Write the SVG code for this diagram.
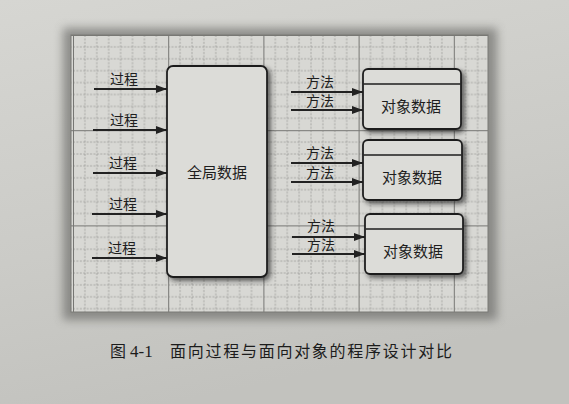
<svg xmlns="http://www.w3.org/2000/svg" width="569" height="404" viewBox="0 0 569 404">
  <defs>
    <linearGradient id="paper" x1="0" y1="0" x2="0.3" y2="1">
      <stop offset="0" stop-color="#d6d6d2"/>
      <stop offset="0.6" stop-color="#cbcbc7"/>
      <stop offset="1" stop-color="#c2c2be"/>
    </linearGradient>
    <pattern id="grid" patternUnits="userSpaceOnUse" x="73" y="35" width="95.2" height="95.2">
      <g stroke="#9a9a97" stroke-width="0.8" stroke-dasharray="2 1.4" fill="none">
        <path d="M11.9 0V95.2M23.8 0V95.2M35.7 0V95.2M47.6 0V95.2M59.5 0V95.2M71.4 0V95.2M83.3 0V95.2"/>
        <path d="M0 11.9H95.2M0 23.8H95.2M0 35.7H95.2M0 47.6H95.2M0 59.5H95.2M0 71.4H95.2M0 83.3H95.2"/>
      </g>
      <path d="M0.5 0V95.2M0 0.5H95.2" stroke="#767673" stroke-width="1" fill="none"/>
    </pattern>
    <filter id="halo" x="-10%" y="-10%" width="120%" height="120%">
      <feGaussianBlur stdDeviation="5"/>
    </filter>
    <filter id="shadow" x="-20%" y="-20%" width="150%" height="150%">
      <feDropShadow dx="3" dy="3" stdDeviation="2.5" flood-color="#1a1a1a" flood-opacity="0.65"/>
    </filter>
    <marker id="arrow" markerUnits="userSpaceOnUse" markerWidth="11" markerHeight="8" refX="11" refY="4" orient="auto">
      <path d="M0 0L11 4L0 8z" fill="#222"/>
    </marker>
    <style>
      .box { fill: #dcdcd8; stroke: #1e1e1e; stroke-width: 1.8; filter: url(#shadow); }
      .div { stroke: #1e1e1e; stroke-width: 1.4; }
      .lbl { font-family: "Noto Sans CJK SC", "Noto Sans", sans-serif; font-size: 14px; fill: #1e1e1e; text-anchor: middle; }
      .big { font-family: "Noto Sans CJK SC", "Noto Sans", sans-serif; font-size: 15px; fill: #1e1e1e; text-anchor: middle; }
      .arr { stroke: #222; stroke-width: 1.9; fill: none; marker-end: url(#arrow); }
      .cap { font-family: "Noto Sans CJK SC", "Noto Sans", sans-serif; font-size: 16px; fill: #1c1c1c; }
    </style>
  </defs>

  <!-- paper -->
  <rect width="569" height="404" fill="url(#paper)"/>

  <!-- grid panel with soft printed halo -->
  <rect x="63" y="28" width="434" height="292" fill="#5e5e5b" opacity="0.6" filter="url(#halo)"/>
  <rect x="71" y="35" width="417" height="277" fill="#d8d8d4"/>
  <rect x="71" y="35" width="417" height="277" fill="url(#grid)" stroke="#7a7a77" stroke-width="1"/>

  <!-- connectors -->
  <g id="connectors">
    <line class="arr" x1="94" y1="89" x2="167" y2="89"/>
    <line class="arr" x1="93" y1="130" x2="167" y2="130"/>
    <line class="arr" x1="93" y1="173" x2="167" y2="173"/>
    <line class="arr" x1="92" y1="214" x2="167" y2="214"/>
    <line class="arr" x1="92" y1="258" x2="167" y2="258"/>
    <text class="lbl" x="124" y="84">过程</text>
    <text class="lbl" x="124" y="125">过程</text>
    <text class="lbl" x="123" y="168">过程</text>
    <text class="lbl" x="123" y="209">过程</text>
    <text class="lbl" x="122" y="253">过程</text>

    <line class="arr" x1="291" y1="92" x2="363" y2="92"/>
    <line class="arr" x1="291" y1="110" x2="363" y2="110"/>
    <line class="arr" x1="291" y1="163" x2="363" y2="163"/>
    <line class="arr" x1="291" y1="182" x2="363" y2="182"/>
    <line class="arr" x1="292" y1="237" x2="365" y2="237"/>
    <line class="arr" x1="292" y1="254" x2="365" y2="254"/>
    <text class="lbl" x="320" y="87">方法</text>
    <text class="lbl" x="320" y="106">方法</text>
    <text class="lbl" x="320" y="158">方法</text>
    <text class="lbl" x="320" y="178">方法</text>
    <text class="lbl" x="321" y="231">方法</text>
    <text class="lbl" x="321" y="250">方法</text>
  </g>

  <!-- global data block -->
  <g id="global-data">
    <rect class="box" x="167" y="66" width="100" height="211" rx="6"/>
    <text class="big" x="217" y="177.5">全局数据</text>
  </g>

  <!-- object blocks -->
  <g id="object-1">
    <rect class="box" x="363" y="69" width="98" height="60" rx="5"/>
    <line class="div" x1="363.5" y1="84" x2="460.5" y2="84"/>
    <text class="big" x="411" y="111.5">对象数据</text>
  </g>
  <g id="object-2">
    <rect class="box" x="363" y="140" width="99" height="60" rx="5"/>
    <line class="div" x1="363.5" y1="155" x2="461.5" y2="155"/>
    <text class="big" x="412" y="182.5">对象数据</text>
  </g>
  <g id="object-3">
    <rect class="box" x="365" y="214" width="98" height="60" rx="5"/>
    <line class="div" x1="365.5" y1="229" x2="462.5" y2="229"/>
    <text class="big" x="413" y="256.5">对象数据</text>
  </g>

  <!-- caption -->
  <g id="caption">
    <text class="cap" x="110" y="357">图</text>
    <text x="130" y="357" font-family="Liberation Serif, serif" font-size="17" fill="#1c1c1c">4-1</text>
    <text class="cap" x="170" y="357" textLength="282" lengthAdjust="spacing">面向过程与面向对象的程序设计对比</text>
  </g>
</svg>
